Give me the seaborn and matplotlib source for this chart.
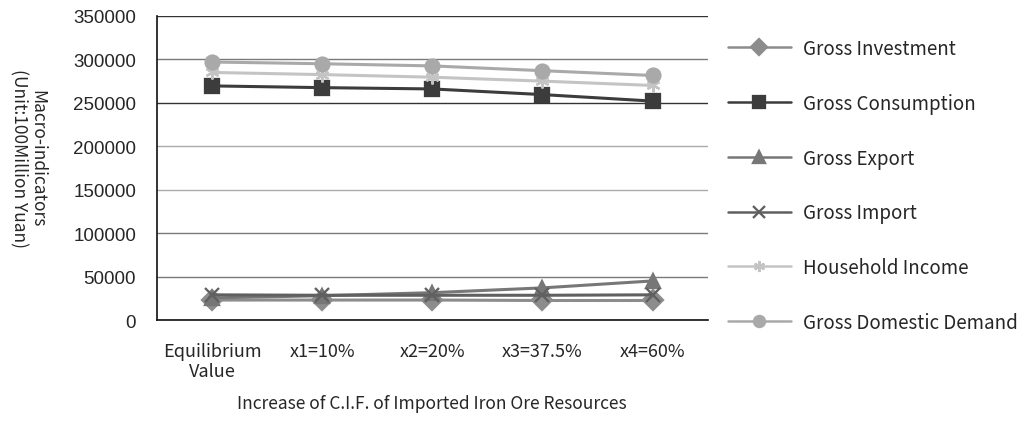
import numpy as np
import pandas as pd
import matplotlib
matplotlib.use("Agg")
import matplotlib.pyplot as plt
import seaborn as sns

# Scenarios along the x axis
scenarios = ["Equilibrium\nValue", "x1=10%", "x2=20%", "x3=37.5%", "x4=60%"]

# Macro-indicators, unit: 100 million yuan
gross_investment = [23000, 23000, 23000, 22500, 22500]
gross_consumption = [269500, 267500, 266000, 259500, 252000]
gross_export = [25500, 28000, 31500, 37000, 45000]
gross_import = [29000, 28500, 28500, 28500, 29000]
household_income = [285000, 282500, 279500, 275000, 270000]
gross_domestic_demand = [297000, 295000, 292500, 287000, 281500]

series_names = ["Gross Investment", "Gross Consumption", "Gross Export",
                "Gross Import", "Household Income", "Gross Domestic Demand"]
series_values = [gross_investment, gross_consumption, gross_export,
                 gross_import, household_income, gross_domestic_demand]

y_ticks = [0, 50000, 100000, 150000, 200000, 250000, 300000, 350000]

df = pd.DataFrame(
    [(name, sc, v) for name, vals in zip(series_names, series_values)
     for sc, v in zip(scenarios, vals)],
    columns=["series", "scenario", "value"],
)

palette = {
    "Gross Investment": "#8c8c8c",
    "Gross Consumption": "#3c3c3c",
    "Gross Export": "#777777",
    "Gross Import": "#606060",
    "Household Income": "#c4c4c4",
    "Gross Domestic Demand": "#a9a9a9",
}
markers = ["D", "s", "^", "x", (6, 2, 0), "o"]

sns.set_style("white")
plt.rcParams["font.family"] = ["Noto Sans CJK JP", "DejaVu Sans"]

fig = plt.figure(figsize=(10.33, 4.35), dpi=100)
ax = fig.add_axes([0.152, 0.262, 0.533, 0.699])

sns.pointplot(
    data=df, x="scenario", y="value", hue="series",
    order=scenarios, hue_order=series_names, palette=palette,
    markers=markers, linestyles="-", errorbar=None,
    markersize=10, linewidth=2.2, ax=ax,
)

# Grid, limits and spines
ax.set_ylim(0, 350000)
ax.set_xlim(-0.5, len(scenarios) - 0.5)
ax.set_yticks(y_ticks)
ax.set_yticklabels([str(t) for t in y_ticks], family="Liberation Sans", fontsize=13.5)
ax.yaxis.grid(True, color="#8a8a8a", linewidth=1.0)
ax.set_axisbelow(True)
grid_colors = ["#8a8a8a", "#7a7a7a", "#7a7a7a", "#aaaaaa", "#aaaaaa", "#333333", "#7a7a7a", "#333333"]
for gl, c in zip(ax.get_ygridlines(), grid_colors):
    gl.set_color(c)
for side in ["top", "right"]:
    ax.spines[side].set_visible(False)
for side in ["left", "bottom"]:
    ax.spines[side].set_color("#111111")
    ax.spines[side].set_linewidth(1.2)

# Category boundaries carry the ticks; labels sit at category centres
ax.set_xticks(np.arange(-0.5, len(scenarios), 1.0))
ax.set_xticklabels([])
ax.set_xticks(np.arange(len(scenarios)), minor=True)
ax.set_xticklabels(scenarios, minor=True, fontsize=13, linespacing=1.15)
ax.tick_params(axis="x", which="major", direction="out", length=5, width=1, color="#222222")
ax.tick_params(axis="x", which="minor", length=0, pad=16)
ax.tick_params(axis="y", direction="out", length=5, width=1, color="#222222", pad=10)

ax.set_xlabel("Increase of C.I.F. of Imported Iron Ore Resources", fontsize=12.5, labelpad=10)
ax.set_ylabel("")
fig.text(0.027, 0.635, "Macro-indicators\n(Unit:100Million Yuan)", rotation=-90,
         ha="center", va="center", fontsize=12.5, linespacing=1.0)

handles, labels = ax.get_legend_handles_labels()
ax.get_legend().remove()
for h in handles:
    h.set_markersize(8)
    h.set_linewidth(1.8)
fig.legend(handles, labels, loc="upper left", bbox_to_anchor=(0.688, 0.949),
           frameon=False, fontsize=13.5, labelspacing=1.8, handlelength=3.4,
           handletextpad=0.6)

fig.savefig("out.png", dpi=100)
